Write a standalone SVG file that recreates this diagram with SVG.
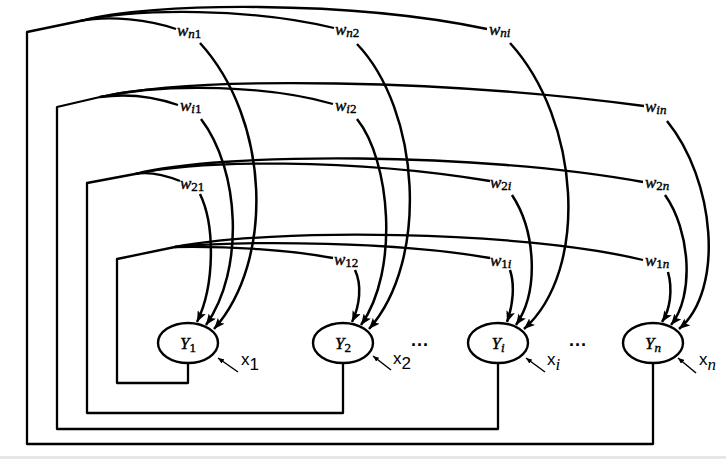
<svg xmlns="http://www.w3.org/2000/svg" width="726" height="459" viewBox="0 0 726 459">
<defs>
<marker id="ah" markerUnits="userSpaceOnUse" markerWidth="12" markerHeight="9" refX="11" refY="4.5" orient="auto"><path d="M0,0 L11,4.5 L0,9 L2.5,4.5 z" fill="#000"/></marker>
<marker id="sa" markerUnits="userSpaceOnUse" markerWidth="6" markerHeight="5" refX="0" refY="2.5" orient="auto"><path d="M0,2.5 L6,0 L6,5 z" fill="#000"/></marker>
<style>
.ln{fill:none;stroke:#000;stroke-width:2.3;stroke-linejoin:round}
.ar{fill:none;stroke:#000;stroke-width:2.5;marker-end:url(#ah)}
.nd{fill:#fff;stroke:#000;stroke-width:2.4}
.pt{fill:none;stroke:#000;stroke-width:1.5;marker-start:url(#sa)}
.w{font-family:"Liberation Serif",serif;font-style:italic;font-size:17px;fill:#000;stroke:#000;stroke-width:0.4}
.sb{font-size:13px}
.up{font-style:normal}
.y{font-family:"Liberation Serif",serif;font-style:italic;font-size:17px;fill:#000;stroke:#000;stroke-width:0.4}
.x{font-family:"Liberation Sans",sans-serif;font-size:17px;fill:#000}
.dots{font-family:"Liberation Sans",sans-serif;font-size:18px;font-weight:bold;fill:#000}
</style>
</defs>
<rect width="726" height="459" fill="#fff"/>
<rect x="0" y="456" width="726" height="3" fill="#e6e6e6"/>
<g id="connectors">
<path class="ln" d="M653,363 V444 H27 V32 L80,21 C110,15 150,20 176,29"/>
<path class="ln" d="M80,21 C140,8 250,8 334,28"/>
<path class="ln" d="M80,21 C150,2 350,0 487,29"/>
<path class="ln" d="M498,363 V429 H57 V107 L100,97 C130,93 155,97 178,105"/>
<path class="ln" d="M100,97 C170,82 270,86 333,104"/>
<path class="ln" d="M100,97 C200,75 450,80 644,106"/>
<path class="ln" d="M343,363 V413 H87 V183 L135,174 C150,171 165,175 180,181"/>
<path class="ln" d="M135,174 C200,160 350,158 490,181"/>
<path class="ln" d="M135,174 C220,152 480,152 643,182"/>
<path class="ln" d="M188,363 V383 H117 V259 L175,247 C230,246 290,250 333,258"/>
<path class="ln" d="M175,247 C250,240 400,242 490,258"/>
<path class="ln" d="M175,247 C270,228 520,230 643,260"/>
<path class="ar" d="M200,194 C215,225 215,285 197,322"/>
<path class="ar" d="M201,119 C240,170 245,270 206,325"/>
<path class="ar" d="M200,43 C270,120 275,260 214,329"/>
<path class="ar" d="M355,270 C362,285 360,305 352,322"/>
<path class="ar" d="M357,119 C390,160 400,270 361,325"/>
<path class="ar" d="M357,44 C420,110 430,260 369,329"/>
<path class="ar" d="M510,270 C515,285 513,305 507,322"/>
<path class="ar" d="M512,195 C535,230 540,290 516,325"/>
<path class="ar" d="M510,43 C580,120 590,270 524,329"/>
<path class="ar" d="M668,272 C673,290 670,310 662,322"/>
<path class="ar" d="M665,195 C690,230 695,295 671,325"/>
<path class="ar" d="M667,121 C715,180 725,290 679,329"/>
</g>
<g id="weights">
<text class="w" x="177" y="36">w<tspan class="sb" dy="2">n<tspan class="up">1</tspan></tspan></text>
<text class="w" x="335" y="35">w<tspan class="sb" dy="2">n<tspan class="up">2</tspan></tspan></text>
<text class="w" x="489" y="35">w<tspan class="sb" dy="2">ni</tspan></text>
<text class="w" x="180" y="111">w<tspan class="sb" dy="2">i<tspan class="up">1</tspan></tspan></text>
<text class="w" x="335" y="111">w<tspan class="sb" dy="2">i<tspan class="up">2</tspan></tspan></text>
<text class="w" x="645" y="112">w<tspan class="sb" dy="2">in</tspan></text>
<text class="w" x="180" y="189">w<tspan class="sb up" dy="2">21</tspan></text>
<text class="w" x="490" y="188">w<tspan class="sb" dy="2"><tspan class="up">2</tspan>i</tspan></text>
<text class="w" x="645" y="188">w<tspan class="sb" dy="2"><tspan class="up">2</tspan>n</tspan></text>
<text class="w" x="334" y="265">w<tspan class="sb up" dy="2">12</tspan></text>
<text class="w" x="490" y="266">w<tspan class="sb" dy="2"><tspan class="up">1</tspan>i</tspan></text>
<text class="w" x="645" y="266">w<tspan class="sb" dy="2"><tspan class="up">1</tspan>n</tspan></text>
</g>
<g id="node-Y1">
<ellipse class="nd" cx="188" cy="343" rx="30" ry="20"/>
<text class="y" x="188" y="349" text-anchor="middle">Y<tspan class="sb up" dy="3">1</tspan></text>
<path class="pt" d="M218,358 L238,372"/>
<text class="x" x="241" y="365">x<tspan dy="5">1</tspan></text>
</g>
<g id="node-Y2">
<ellipse class="nd" cx="343" cy="343" rx="30" ry="20"/>
<text class="y" x="343" y="349" text-anchor="middle">Y<tspan class="sb up" dy="3">2</tspan></text>
<path class="pt" d="M373,356 L391,370"/>
<text class="x" x="393" y="364">x<tspan dy="5">2</tspan></text>
</g>
<g id="node-Yi">
<ellipse class="nd" cx="498" cy="343" rx="30" ry="20"/>
<text class="y" x="498" y="349" text-anchor="middle">Y<tspan class="sb" dy="3">i</tspan></text>
<path class="pt" d="M526,358 L545,372"/>
<text class="x" x="547" y="365">x<tspan dy="5" style="font-family:'Liberation Serif',serif;font-style:italic">i</tspan></text>
</g>
<g id="node-Yn">
<ellipse class="nd" cx="653" cy="343" rx="30" ry="20"/>
<text class="y" x="653" y="349" text-anchor="middle">Y<tspan class="sb" dy="3">n</tspan></text>
<path class="pt" d="M678,358 L696,373"/>
<text class="x" x="699" y="365">x<tspan dy="5" style="font-family:'Liberation Serif',serif;font-style:italic">n</tspan></text>
</g>
<g id="ellipsis">
<text class="dots" x="420" y="351" text-anchor="middle">···</text>
<text class="dots" x="578" y="351" text-anchor="middle">···</text>
</g>
</svg>
